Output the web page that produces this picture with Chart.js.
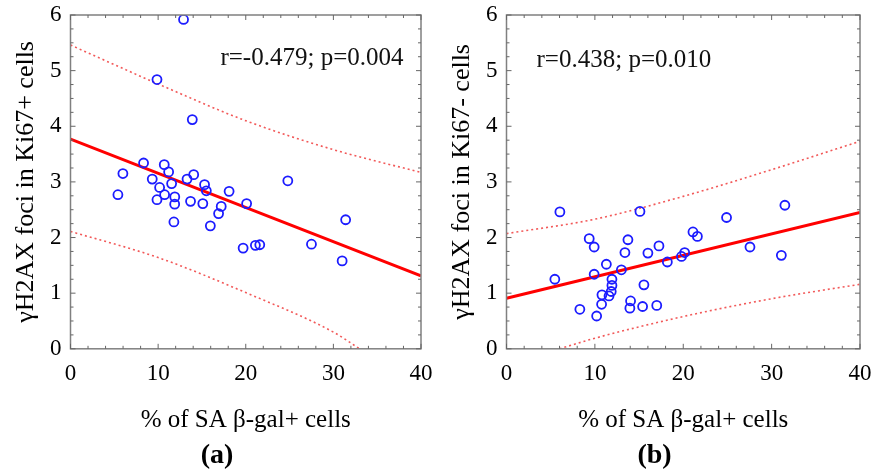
<!DOCTYPE html>
<html>
<head>
<meta charset="utf-8">
<script src="https://cdn.jsdelivr.net/npm/chart.js@4.4.1/dist/chart.umd.min.js"></script>
<style>
  body { margin: 0; background: #fff; }
  #wrap { width: 876px; height: 474px; display: flex; }
  .panel { position: relative; width: 438px; height: 474px; }
</style>
</head>
<body>
<div id="wrap">
  <div class="panel"><canvas id="chartA"></canvas></div>
  <div class="panel"><canvas id="chartB"></canvas></div>
</div>
<script>
const xTicks = [0, 10, 20, 30, 40];
const yTicks = [0, 1, 2, 3, 4, 5, 6];

// panel (a): Ki67+ cells
const cellsA = [12.9, 9.87, 13.9, 8.34, 5.98, 5.41, 10.7, 11.2, 9.33, 11.54, 10.17, 10.74, 9.87, 11.9, 11.89, 11.8, 13.3,
    14.06, 13.7, 15.3, 15.5, 15.1, 15.96, 17.2, 16.9, 18.1, 20.1, 19.7, 21.1, 21.6, 24.8, 27.5, 31.4, 31.0];
const fociA = [5.92, 4.84, 4.12, 3.34, 3.15, 2.77, 3.31, 3.18, 3.05, 2.97, 2.90, 2.77, 2.68, 2.73, 2.60, 2.28, 3.05,
    3.13, 2.65, 2.95, 2.84, 2.61, 2.21, 2.56, 2.43, 2.83, 2.61, 1.81, 1.86, 1.87, 3.02, 1.88, 2.32, 1.58];
const fitXA = [0, 40];
const fitYA = [3.77, 1.31];
const upperXA = [0, 10, 20, 30, 40];
const upperYA = [5.46, 4.76, 4.10, 3.58, 3.17];
const lowerXA = [0, 10, 20, 30, 33];
const lowerYA = [2.11, 1.64, 1.01, 0.30, 0];

// panel (b): Ki67- cells
const cellsB = [6.04, 5.47, 8.3, 9.36, 9.92, 9.92, 10.2, 10.76, 10.8, 11.3, 11.6, 11.85, 11.93, 11.93, 13.0, 13.4, 13.74,
    14.04, 13.96, 15.1, 15.4, 15.55, 16.0, 17.0, 17.25, 18.2, 19.8, 20.16, 21.1, 21.6, 24.9, 27.55, 31.1, 31.5];
const fociB = [2.46, 1.25, 0.71, 1.98, 1.83, 1.34, 0.59, 0.80, 0.97, 1.52, 0.95, 1.03, 1.14, 1.25, 1.42, 1.73, 1.96,
    0.86, 0.73, 2.47, 0.76, 1.15, 1.72, 0.78, 1.85, 1.56, 1.66, 1.73, 2.10, 2.02, 2.36, 1.83, 1.68, 2.58];
const fitXB = [0, 40];
const fitYB = [0.91, 2.45];
const upperXB = [0, 10, 20, 30, 40];
const upperYB = [2.07, 2.33, 2.74, 3.22, 3.73];
const lowerXB = [6, 10, 20, 30, 40];
const lowerYB = [0, 0.19, 0.58, 0.90, 1.16];

const serif = '"Liberation Serif", "Times New Roman", serif';
const pts = (xs, ys) => xs.map((v, i) => ({x: v, y: ys[i]}));

// box round the plot, inward ticks, r/p text
const frame = {
    id: 'frame',
    afterDatasetsDraw(chart, args, opts) {
        const {ctx, chartArea: a, scales: {x, y}} = chart;
        ctx.save();
        ctx.strokeStyle = '#808080';
        ctx.lineWidth = 1.5;
        ctx.strokeRect(a.left, a.top, a.width, a.height);
        ctx.lineWidth = 1;
        ctx.strokeStyle = '#666';
        ctx.beginPath();
        for (let v = 0; v <= 40; v += 2) {
            const px = x.getPixelForValue(v);
            const len = v % 10 === 0 ? 5 : 3;
            ctx.moveTo(px, a.bottom); ctx.lineTo(px, a.bottom - len);
            ctx.moveTo(px, a.top); ctx.lineTo(px, a.top + len);
        }
        for (let v = 0; v <= 6; v += 0.25) {
            const py = y.getPixelForValue(v);
            const len = v % 1 === 0 ? 5 : 3;
            ctx.moveTo(a.left, py); ctx.lineTo(a.left + len, py);
            ctx.moveTo(a.right, py); ctx.lineTo(a.right - len, py);
        }
        ctx.stroke();
        ctx.font = '25px ' + serif;
        ctx.fillStyle = '#111';
        ctx.textAlign = opts.align;
        ctx.textBaseline = 'middle';
        ctx.fillText(opts.text, x.getPixelForValue(opts.x), y.getPixelForValue(opts.y));
        ctx.restore();
    }
};

function makeChart(id, cells, foci, fitX, fitY, upX, upY, loX, loY, yTitle, panel, stat, pad) {
    const band = {
        type: 'line', borderColor: 'rgba(240,60,60,0.85)', borderWidth: 1.6, borderDash: [2, 3],
        pointRadius: 0, tension: 0.4, cubicInterpolationMode: 'monotone', fill: false
    };
    return new Chart(document.getElementById(id), {
        type: 'scatter',
        data: {
            datasets: [
                {data: pts(cells, foci), pointStyle: 'circle', pointRadius: 4.5, borderWidth: 1.8,
                    borderColor: '#1c1cff', backgroundColor: 'rgba(0,0,0,0)', order: 1},
                {type: 'line', data: pts(fitX, fitY), borderColor: '#f00', borderWidth: 3, pointRadius: 0, order: 2},
                Object.assign({data: pts(upX, upY), order: 3}, band),
                Object.assign({data: pts(loX, loY), order: 3}, band)
            ]
        },
        options: {
            animation: false,
            responsive: true,
            maintainAspectRatio: false,
            layout: {padding: pad},
            plugins: {
                legend: {display: false},
                tooltip: {enabled: false},
                title: {display: true, text: panel, position: 'bottom', color: '#000',
                    font: {family: serif, size: 28, weight: 'bold'}, padding: {top: 4, bottom: 1}},
                frame: stat
            },
            scales: {
                x: {
                    type: 'linear', min: 0, max: 40,
                    afterBuildTicks: s => { s.ticks = xTicks.map(v => ({value: v})); },
                    afterFit: s => { s.paddingRight = 0; s.paddingLeft = 0; },
                    grid: {display: false, drawTicks: false},
                    border: {display: false},
                    ticks: {color: '#000', padding: 11, font: {family: serif, size: 23}, maxRotation: 0},
                    title: {display: true, text: '% of SA β-gal+ cells', color: '#000',
                        font: {family: serif, size: 25}, padding: {top: 7, bottom: 0}}
                },
                y: {
                    type: 'linear', min: 0, max: 6,
                    afterBuildTicks: s => { s.ticks = yTicks.map(v => ({value: v})); },
                    afterFit: s => { s.paddingTop = 0; s.paddingBottom = 0; },
                    grid: {display: false, drawTicks: false},
                    border: {display: false},
                    ticks: {color: '#000', padding: 9, font: {family: serif, size: 23}},
                    title: {display: true, text: yTitle, color: '#000',
                        font: {family: serif, size: 26, lineHeight: 1}, padding: {top: 0, bottom: 2}}
                }
            }
        },
        plugins: [frame]
    });
}

makeChart('chartA', cellsA, fociA, fitXA, fitYA, upperXA, upperYA, lowerXA, lowerYA,
    'γH2AX foci in Ki67+ cells', '(a)', {text: 'r=-0.479; p=0.004', x: 38, y: 5.22, align: 'right'},
    {left: 13, right: 17, top: 15, bottom: 0});
makeChart('chartB', cellsB, fociB, fitXB, fitYB, upperXB, upperYB, lowerXB, lowerYB,
    'γH2AX foci in Ki67- cells', '(b)', {text: 'r=0.438; p=0.010', x: 3.4, y: 5.19, align: 'left'},
    {left: 11, right: 16, top: 15, bottom: 0});
</script>
</body>
</html>
